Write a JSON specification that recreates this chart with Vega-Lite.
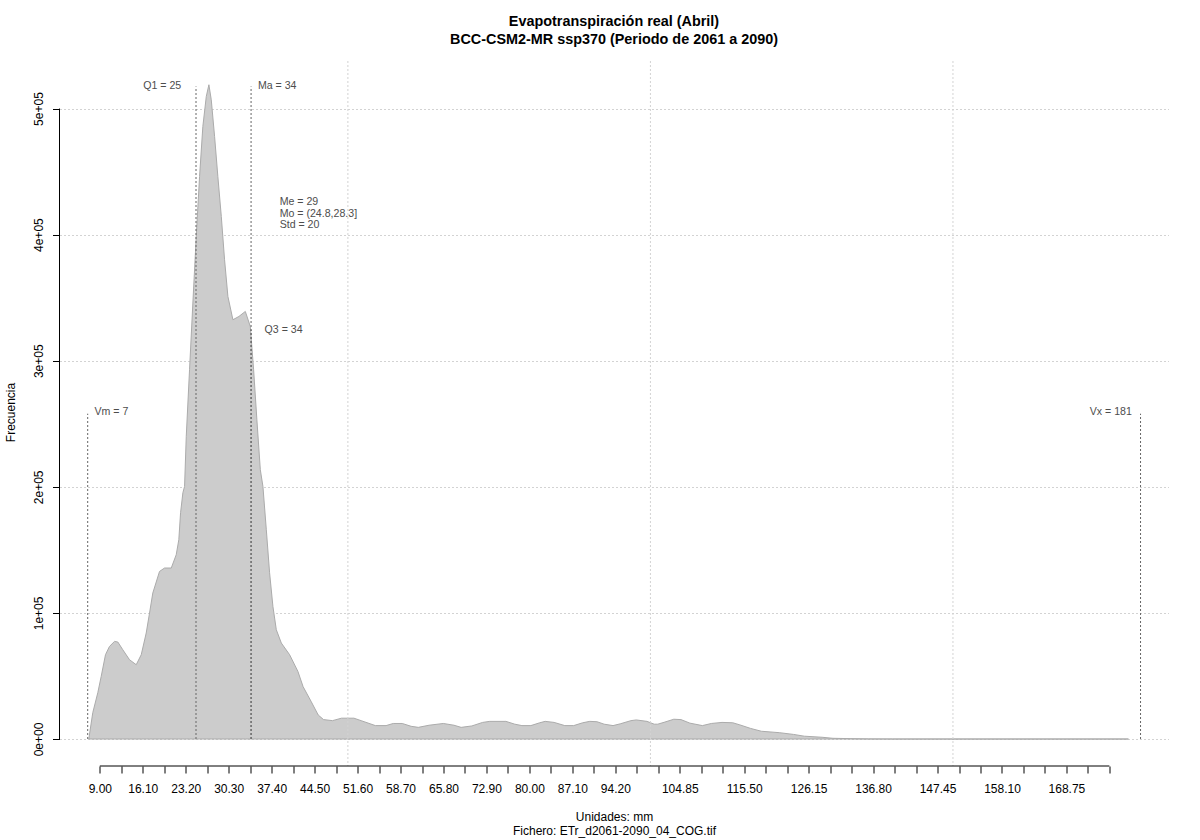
{
  "$schema": "https://vega.github.io/schema/vega-lite/v6.json",
  "width": 1109,
  "height": 705,
  "autosize": {"type": "none"},
  "padding": {"left": 59.5, "top": 61, "right": 31.5, "bottom": 74},
  "background": "white",
  "config": {"view": {"stroke": null}, "font": "Liberation Sans", "axis": {"labelOverlap": false}},
  "title": {
    "text": ["Evapotranspiración real (Abril)", "BCC-CSM2-MR ssp370 (Periodo de 2061 a 2090)"],
    "font": "Liberation Sans",
    "fontSize": 14.4,
    "fontWeight": "bold",
    "color": "black",
    "anchor": "middle",
    "lineHeight": 18.5,
    "offset": 13
  },
  "datasets": {
    "density": [
      {"x": 7.18, "freq": 0}, {"x": 7.84, "freq": 20860}, {"x": 8.67, "freq": 36720}, {"x": 9.23, "freq": 49640},
      {"x": 9.94, "freq": 66850}, {"x": 10.6, "freq": 73430}, {"x": 11.43, "freq": 77400}, {"x": 11.98, "freq": 76920},
      {"x": 12.8, "freq": 70810}, {"x": 13.91, "freq": 62880}, {"x": 15.02, "freq": 58920}, {"x": 15.85, "freq": 66850},
      {"x": 16.67, "freq": 84060}, {"x": 17.22, "freq": 99920}, {"x": 17.76, "freq": 115780}, {"x": 18.87, "freq": 132910},
      {"x": 19.7, "freq": 135600}, {"x": 20.81, "freq": 135600}, {"x": 21.63, "freq": 146150}, {"x": 22.06, "freq": 158040},
      {"x": 22.35, "freq": 179460}, {"x": 22.73, "freq": 195320}, {"x": 23.01, "freq": 200310}, {"x": 23.29, "freq": 239960},
      {"x": 23.83, "freq": 292850}, {"x": 24.38, "freq": 345750}, {"x": 24.94, "freq": 398560}, {"x": 25.49, "freq": 446140},
      {"x": 26.03, "freq": 485790}, {"x": 26.6, "freq": 509580}, {"x": 27.03, "freq": 518860}, {"x": 27.42, "freq": 506960},
      {"x": 27.97, "freq": 477860}, {"x": 28.51, "freq": 446140}, {"x": 29.08, "freq": 414420}, {"x": 29.62, "freq": 380080},
      {"x": 30.17, "freq": 350980}, {"x": 31.0, "freq": 332500}, {"x": 31.99, "freq": 335120}, {"x": 33.05, "freq": 339090},
      {"x": 33.87, "freq": 327190}, {"x": 34.42, "freq": 292850}, {"x": 34.96, "freq": 253210}, {"x": 35.53, "freq": 213550},
      {"x": 35.96, "freq": 200310}, {"x": 36.52, "freq": 165970}, {"x": 37.06, "freq": 131880}, {"x": 37.61, "freq": 105150},
      {"x": 38.17, "freq": 86670}, {"x": 39.0, "freq": 76130}, {"x": 40.37, "freq": 66850}, {"x": 41.74, "freq": 53610},
      {"x": 42.6, "freq": 41500}, {"x": 43.9, "freq": 30000}, {"x": 45.1, "freq": 19040}, {"x": 45.98, "freq": 15400},
      {"x": 47.46, "freq": 14560}, {"x": 48.94, "freq": 16520}, {"x": 51.0, "freq": 16520}, {"x": 52.18, "freq": 14560},
      {"x": 54.54, "freq": 10640}, {"x": 56.31, "freq": 10640}, {"x": 57.5, "freq": 12320}, {"x": 58.98, "freq": 12320},
      {"x": 60.45, "freq": 10080}, {"x": 61.64, "freq": 9240}, {"x": 63.41, "freq": 10920}, {"x": 65.77, "freq": 12320},
      {"x": 67.54, "freq": 10920}, {"x": 68.72, "freq": 9240}, {"x": 70.49, "freq": 10360}, {"x": 72.27, "freq": 13160},
      {"x": 73.45, "freq": 14000}, {"x": 76.11, "freq": 14000}, {"x": 77.58, "freq": 11760}, {"x": 78.76, "freq": 10640},
      {"x": 80.24, "freq": 10640}, {"x": 81.71, "freq": 12880}, {"x": 82.6, "freq": 14000}, {"x": 84.08, "freq": 13160},
      {"x": 85.85, "freq": 10640}, {"x": 87.32, "freq": 10640}, {"x": 88.81, "freq": 12880}, {"x": 89.98, "freq": 14000},
      {"x": 91.16, "freq": 13720}, {"x": 92.35, "freq": 11760}, {"x": 93.82, "freq": 10640}, {"x": 95.01, "freq": 12040},
      {"x": 96.78, "freq": 14560}, {"x": 97.66, "freq": 15120}, {"x": 99.43, "freq": 14000}, {"x": 100.62, "freq": 11760},
      {"x": 101.21, "freq": 11760}, {"x": 102.39, "freq": 13440}, {"x": 103.86, "freq": 15680}, {"x": 105.05, "freq": 15400},
      {"x": 106.52, "freq": 12600}, {"x": 108.59, "freq": 10640}, {"x": 110.07, "freq": 12320}, {"x": 111.83, "freq": 13160},
      {"x": 113.61, "freq": 12880}, {"x": 114.79, "freq": 11200}, {"x": 116.56, "freq": 8400}, {"x": 118.33, "freq": 6160},
      {"x": 121.29, "freq": 5040}, {"x": 123.66, "freq": 3640}, {"x": 125.43, "freq": 2240}, {"x": 128.37, "freq": 1400},
      {"x": 130.16, "freq": 560}, {"x": 133.0, "freq": 300}, {"x": 136.0, "freq": 80}, {"x": 140.0, "freq": 0},
      {"x": 179.0, "freq": 0}
    ],
    "grid": [{"g": 50}, {"g": 100}, {"g": 150}],
    "stats": [
      {"name": "Vm", "v": 7, "bottom": 0, "top": 258000},
      {"name": "Q1", "v": 24.9, "bottom": 0, "top": 517500},
      {"name": "Ma", "v": 34.0, "bottom": 0, "top": 517500},
      {"name": "Q3", "v": 34.0, "bottom": 0, "top": 324600},
      {"name": "Vx", "v": 181, "bottom": 0, "top": 258000}
    ],
    "xaxisline": [{"from": 9, "to": 175.85, "at": -21400}],
    "yaxisline": [{"at": 2.34, "from": 0, "to": 500000}],
    "notes": [
      {"label": "Q1 = 25", "x": 22.46, "y": 518000, "side": "R"},
      {"label": "Ma = 34", "x": 35.13, "y": 518000, "side": "L"},
      {"label": "Q3 = 34", "x": 36.24, "y": 324600, "side": "L"},
      {"label": "Vm = 7", "x": 8.12, "y": 259500, "side": "L"},
      {"label": "Vx = 181", "x": 179.56, "y": 259000, "side": "R"},
      {"label": "Me = 29", "x": 38.72, "y": 425500, "side": "L"},
      {"label": "Mo = (24.8,28.3]", "x": 38.72, "y": 416300, "side": "L"},
      {"label": "Std = 20", "x": 38.72, "y": 407300, "side": "L"}
    ]
  },
  "layer": [
    {
      "data": {"name": "density"},
      "mark": {"type": "area", "fill": "#cccccc", "stroke": "#ababab", "strokeWidth": 1, "interpolate": "linear"},
      "encoding": {
        "x": {
          "field": "x", "type": "quantitative",
          "scale": {"domain": [2.34, 185.62], "nice": false, "zero": false},
          "axis": {
            "title": ["Unidades: mm", "Fichero: ETr_d2061-2090_04_COG.tif"],
            "titleFont": "Liberation Sans", "titleFontSize": 12, "titleFontWeight": "normal", "titleColor": "black",
            "titleLineHeight": 13.4, "titleBaseline": "top", "titleX": 554.5, "titleY": 45.8, "titleAlign": "center",
            "values": [9, 12.55, 16.1, 19.65, 23.2, 26.75, 30.3, 33.85, 37.4, 40.95, 44.5, 48.05, 51.6, 55.15, 58.7, 62.25, 65.8, 69.35, 72.9, 76.45, 80, 83.55, 87.1, 90.65, 94.2, 97.75, 101.3, 104.85, 108.4, 111.95, 115.5, 119.05, 122.6, 126.15, 129.7, 133.25, 136.8, 140.35, 143.9, 147.45, 151, 154.55, 158.1, 161.65, 165.2, 168.75, 172.3, 175.85],
            "tickCount": 100,
            "labelExpr": "((datum.value < 95 && round((datum.value - 9) / 3.55) % 2 == 0) || (datum.value > 100 && round((datum.value - 104.85) / 3.55) % 3 == 0)) ? format(datum.value, '.2f') : ''",
            "labelFont": "Liberation Sans", "labelFontSize": 12, "labelColor": "black",
            "labelOverlap": false, "labelFlush": false, "labelPadding": 10.5, "labelBaseline": "top",
            "tickSize": 7, "tickColor": "black", "tickWidth": 1,
            "domain": false, "grid": false
          }
        },
        "y": {
          "field": "freq", "type": "quantitative",
          "scale": {"domain": [-21400, 537700], "nice": false, "zero": false},
          "axis": {
            "title": "Frecuencia",
            "titleFont": "Liberation Sans", "titleFontSize": 12, "titleFontWeight": "normal", "titleColor": "black",
            "titleAngle": 270, "titleBaseline": "alphabetic", "titleAlign": "center", "titleX": -45.5, "titleY": 351,
            "values": [0, 100000, 200000, 300000, 400000, 500000],
            "labelExpr": "replace(format(datum.value, '.0e'), 'e+', 'e+0')",
            "labelFont": "Liberation Sans", "labelFontSize": 12, "labelColor": "black",
            "labelAngle": 270, "labelAlign": "center", "labelBaseline": "alphabetic", "labelPadding": 9.8,
            "labelOverlap": false, "labelFlush": false,
            "tickSize": 7, "tickColor": "black", "tickWidth": 1,
            "domain": false, "grid": true, "gridColor": "#d3d3d3", "gridDash": [2, 2], "gridWidth": 1
          }
        }
      }
    },
    {
      "data": {"name": "grid"},
      "mark": {"type": "rule", "color": "#d3d3d3", "strokeDash": [2, 2], "strokeWidth": 1},
      "encoding": {
        "x": {"field": "g", "type": "quantitative", "scale": {"domain": [2.34, 185.62], "nice": false, "zero": false}}
      }
    },
    {
      "data": {"name": "stats"},
      "mark": {"type": "rule", "color": "#666666", "strokeDash": [2, 2], "strokeWidth": 1},
      "encoding": {
        "x": {"field": "v", "type": "quantitative", "scale": {"domain": [2.34, 185.62], "nice": false, "zero": false}},
        "y": {"field": "bottom", "type": "quantitative", "scale": {"domain": [-21400, 537700], "nice": false, "zero": false}},
        "y2": {"field": "top"}
      }
    },
    {
      "data": {"name": "xaxisline"},
      "mark": {"type": "rule", "color": "black", "strokeWidth": 1},
      "encoding": {
        "x": {"field": "from", "type": "quantitative", "scale": {"domain": [2.34, 185.62], "nice": false, "zero": false}},
        "x2": {"field": "to"},
        "y": {"field": "at", "type": "quantitative", "scale": {"domain": [-21400, 537700], "nice": false, "zero": false}}
      }
    },
    {
      "data": {"name": "yaxisline"},
      "mark": {"type": "rule", "color": "black", "strokeWidth": 1},
      "encoding": {
        "x": {"field": "at", "type": "quantitative", "scale": {"domain": [2.34, 185.62], "nice": false, "zero": false}},
        "y": {"field": "from", "type": "quantitative", "scale": {"domain": [-21400, 537700], "nice": false, "zero": false}},
        "y2": {"field": "to"}
      }
    },
    {
      "data": {"name": "notes"},
      "transform": [{"filter": "datum.side === 'L'"}],
      "mark": {"type": "text", "align": "left", "baseline": "middle", "font": "Liberation Sans", "fontSize": 10.6, "color": "#4d4d4d"},
      "encoding": {
        "x": {"field": "x", "type": "quantitative", "scale": {"domain": [2.34, 185.62], "nice": false, "zero": false}},
        "y": {"field": "y", "type": "quantitative", "scale": {"domain": [-21400, 537700], "nice": false, "zero": false}},
        "text": {"field": "label"}
      }
    },
    {
      "data": {"name": "notes"},
      "transform": [{"filter": "datum.side === 'R'"}],
      "mark": {"type": "text", "align": "right", "baseline": "middle", "font": "Liberation Sans", "fontSize": 10.6, "color": "#4d4d4d"},
      "encoding": {
        "x": {"field": "x", "type": "quantitative", "scale": {"domain": [2.34, 185.62], "nice": false, "zero": false}},
        "y": {"field": "y", "type": "quantitative", "scale": {"domain": [-21400, 537700], "nice": false, "zero": false}},
        "text": {"field": "label"}
      }
    }
  ]
}
